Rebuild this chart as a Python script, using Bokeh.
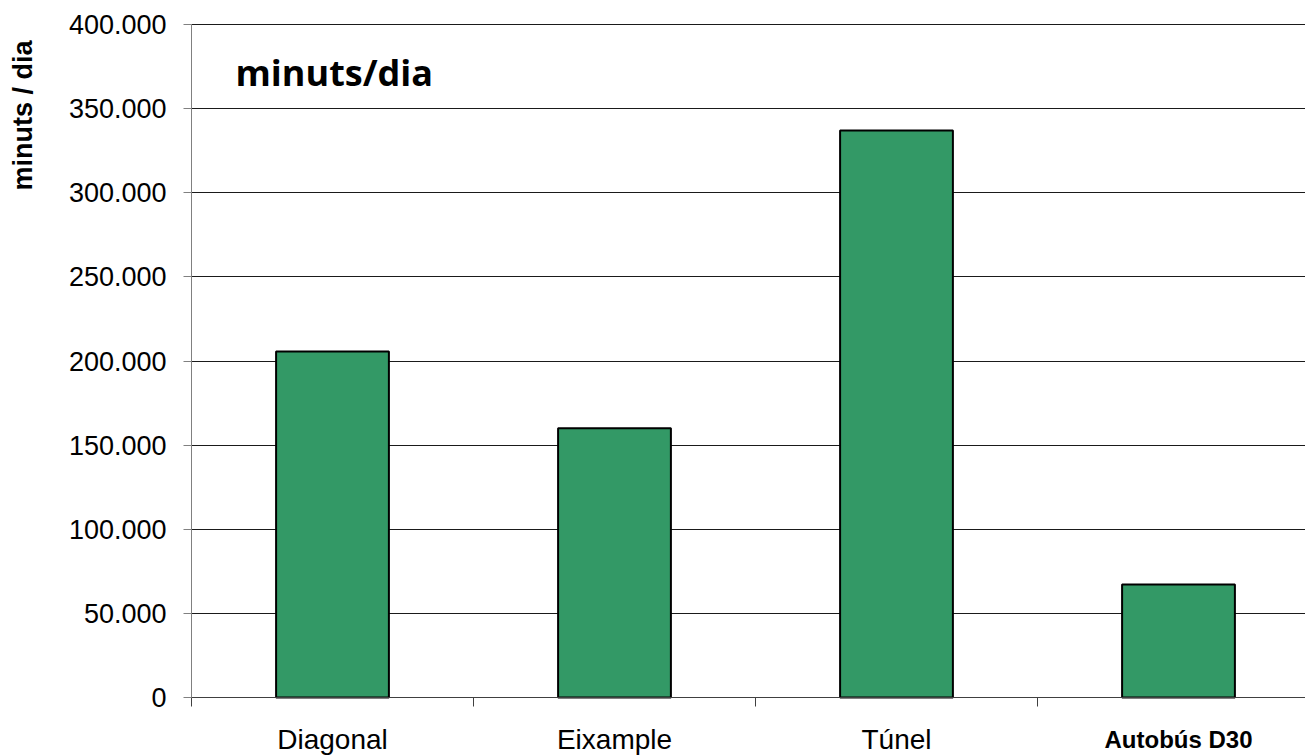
import math
from bokeh.plotting import figure
from bokeh.models import Range1d, FixedTicker, Label, ColumnDataSource
from bokeh.embed import file_html
from bokeh.resources import INLINE

categories = ["Diagonal", "Eixample", "Túnel", "Autobús D30"]
values = [205600, 160000, 337000, 67200]
y_ticks = [0, 50000, 100000, 150000, 200000, 250000, 300000, 350000, 400000]
y_tick_labels = ["0", "50.000", "100.000", "150.000", "200.000", "250.000", "300.000", "350.000", "400.000"]

xs = [i + 0.5 for i in range(len(categories))]
src = ColumnDataSource(dict(x=xs, top=values, name=categories))

# the frame covers the whole canvas; axes are drawn at x = 0 and y = 0
px_per_cat = 282.0
x_start = -191 / px_per_cat
x_end = (1305 - 191) / px_per_cat
y_start = -400000 * 58 / 673
y_end = 400000 + 400000 * 24 / 673

p = figure(width=1305, height=755, output_backend="svg", toolbar_location=None,
           x_range=Range1d(x_start, x_end), y_range=Range1d(y_start, y_end),
           min_border_left=0, min_border_right=0, min_border_top=0, min_border_bottom=0)
p.outline_line_color = None
p.background_fill_color = "white"
p.border_fill_color = "white"

p.vbar(x="x", top="top", width=0.4, source=src, fill_color="#339966",
       line_color="#000000", line_width=2)

# y axis
p.yaxis.fixed_location = 0
p.yaxis.bounds = (0, 400000)
p.yaxis.ticker = FixedTicker(ticks=y_ticks)
p.yaxis.major_label_overrides = {t: l for t, l in zip(y_ticks, y_tick_labels)}
p.yaxis.major_label_text_font = "Liberation Sans"
p.yaxis.major_label_text_font_size = "27px"
p.yaxis.major_label_text_color = "#000000"
p.yaxis.major_label_standoff = 17
p.yaxis.major_tick_out = 8
p.yaxis.major_tick_in = 0
p.yaxis.minor_tick_line_color = None
p.yaxis.axis_line_color = "#808080"
p.yaxis.major_tick_line_color = "#808080"

# x axis
p.xaxis.fixed_location = 0
p.xaxis.bounds = (0, x_end)
p.xaxis.ticker = FixedTicker(ticks=xs[:3], minor_ticks=[0, 1, 2, 3])
p.xaxis.major_label_overrides = {x: c for x, c in zip(xs[:3], categories[:3])}
p.xaxis.major_label_text_font = "Liberation Sans"
p.xaxis.major_label_text_font_size = "28px"
p.xaxis.major_label_text_color = "#000000"
p.xaxis.major_label_standoff = 17
p.xaxis.major_tick_line_color = None
p.xaxis.minor_tick_out = 9
p.xaxis.minor_tick_in = 0
p.xaxis.minor_tick_line_color = "#404040"
p.xaxis.axis_line_color = "#404040"

p.xgrid.grid_line_color = None
p.ygrid.ticker = FixedTicker(ticks=y_ticks)
p.ygrid.cross_bounds = (0, x_end)
p.ygrid.grid_line_color = "#1a1a1a"
p.ygrid.grid_line_width = 1

p.add_layout(Label(x=xs[3], y=-24900, x_units="data", y_units="data", text=categories[3],
                   text_font="Liberation Sans", text_font_style="bold", text_font_size="24px",
                   text_align="center", text_baseline="alphabetic", text_color="#000000"))

p.add_layout(Label(x=235, y=683, x_units="screen", y_units="screen", text="minuts/dia",
                   text_font="Open Sans", text_font_style="bold", text_font_size="36px",
                   text_align="left", text_baseline="alphabetic", text_color="#000000"))

p.add_layout(Label(x=22, y=565, x_units="screen", y_units="screen", text="minuts / dia",
                   angle=math.pi / 2, text_font="Liberation Sans", text_font_style="bold",
                   text_font_size="27px", text_align="left", text_baseline="alphabetic",
                   text_color="#000000"))

open("out.html", "w").write(file_html(p, INLINE))
